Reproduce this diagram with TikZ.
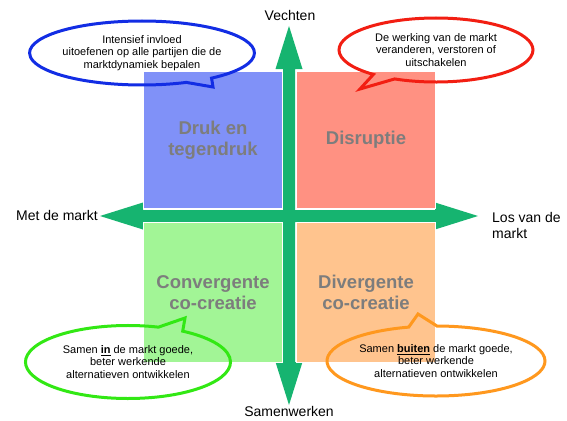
\documentclass[tikz,border=0pt]{standalone}
\usepackage{fontspec}
\setmainfont{Liberation Sans}
\usetikzlibrary{shapes.callouts}
\definecolor{axisgreen}{RGB}{22,180,112}
\definecolor{quadgrey}{RGB}{125,125,125}
\definecolor{drukblue}{RGB}{128,145,248}
\definecolor{disrred}{RGB}{255,145,130}
\definecolor{convgreen}{RGB}{162,245,150}
\definecolor{divorange}{RGB}{255,196,142}
\definecolor{bblue}{RGB}{18,45,228}
\definecolor{bred}{RGB}{242,30,18}
\definecolor{bgreen}{RGB}{50,232,20}
\definecolor{borange}{RGB}{255,152,30}
\begin{document}
\begin{tikzpicture}[x=1pt,y=-1pt]
        \tikzstyle{axis}=[fill=axisgreen]
        \tikzstyle{quadrant}=[rectangle,draw=white,line width=1.5pt,inner sep=0pt,minimum width=139pt,text=quadgrey,align=center,font=\fontsize{18.5}{21}\selectfont\bfseries]
        \tikzstyle{bubble}=[ellipse callout,draw,line width=3pt,inner sep=0pt,align=center,font=\fontsize{11}{12.5}\selectfont]
        \tikzstyle{axislabel}=[inner sep=0pt,font=\fontsize{14}{16}\selectfont]
       \useasboundingbox (0,0) rectangle (567,420);
       \begin{scope}
         % axes
         \path[axis] (289,26) -- (302.5,69) -- (295,69) -- (295,362) -- (302.5,362) -- (289,405)
           -- (275.5,362) -- (283,362) -- (283,69) -- (275.5,69) -- cycle;
         \path[axis] (100,216) -- (143,202.5) -- (143,210) -- (435,210) -- (435,202.5) -- (478,216)
           -- (435,229.5) -- (435,222) -- (143,222) -- (143,229.5) -- cycle;
         \node [quadrant,fill=drukblue,minimum height=137pt] (druk) at (213,140) {Druk en\\tegendruk};
         \node [quadrant,fill=disrred,minimum height=137pt] (disruptie) at (366,140) {Disruptie};
         \node [quadrant,fill=convgreen,minimum height=140pt] (convergent) at (213,292.5) {Convergente\\co-creatie};
         \node [quadrant,fill=divorange,minimum height=140pt] (divergent) at (366,292.5) {Divergente\\co-creatie};
         \node [axislabel] (vechten) at (290,15) {Vechten};
         \node [axislabel] (samenwerken) at (289,411) {Samenwerken};
         \node [axislabel,anchor=east] (metmarkt) at (98,215) {Met de markt};
         \node [axislabel,anchor=west,align=left] (losmarkt) at (492,225) {Los van de\\markt};
         % speech bubbles
         \node [bubble,draw=bblue,minimum width=188pt,minimum height=64pt,callout absolute pointer={(213,87)}] (invloed) at (142,53) {Intensief invloed\\uitoefenen op alle partijen die de\\marktdynamiek bepalen};
         \node [bubble,draw=bred,minimum width=194pt,minimum height=64pt,callout absolute pointer={(360,89)}] (werking) at (436,50) {De werking van de markt\\veranderen, verstoren of\\uitschakelen};
         \node [bubble,draw=bgreen,minimum width=205pt,minimum height=73pt,callout absolute pointer={(185,318)}] (samenin) at (128,362) {Samen \underline{\textbf{in}} de markt goede,\\beter werkende\\alternatieven ontwikkelen};
         \node [bubble,draw=borange,minimum width=218pt,minimum height=70pt,callout absolute pointer={(418,314)}] (samenbuiten) at (436,361) {Samen \underline{\textbf{buiten}} de markt goede,\\beter werkende\\alternatieven ontwikkelen};
        \end{scope}
      \end{tikzpicture}
\end{document}
